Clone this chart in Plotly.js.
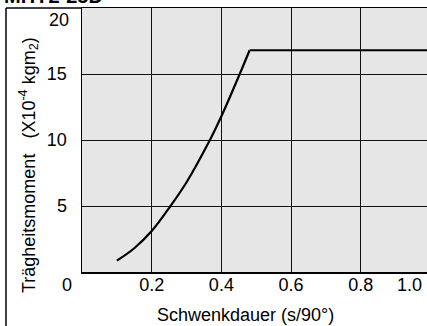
<!DOCTYPE html>
<html>
<head>
<meta charset="utf-8">
<script src="https://cdn.plot.ly/plotly-3.0.1.min.js"></script>
<style>html,body{margin:0;padding:0;background:#fff;}#chart{width:427px;height:326px;}</style>
</head>
<body>
<div id="chart"></div>
<script>
// Data
var riseTime    = [0.10, 0.15, 0.20, 0.254, 0.30, 0.367, 0.40, 0.451, 0.481];
var riseInertia = [0.86, 1.8, 3.1, 5.0, 6.8, 10.0, 11.8, 14.9, 16.8];
var flatTime    = [0.481, 1.05];
var flatInertia = [16.8, 16.8];
var xTickVals = [0.2, 0.4, 0.6, 0.8];
var xTickText = ['0.2', '0.4', '0.6', '0.8'];
var yTickVals = [5, 10, 15];
var yTickText = ['5', '10', '15'];
var chartTitle = 'MHY2-25D';
var xTitle = 'Schwenkdauer (s/90°)';
var yTitle = 'Trägheitsmoment\u00a0\u00a0\u00a0(X10<sup>-4</sup> kgm<sub>2</sub>)';

var font = {family: 'Liberation Sans, Arial, sans-serif', size: 18, color: '#000'};

var traces = [
  {x: riseTime, y: riseInertia, mode: 'lines', type: 'scatter',
   line: {color: '#000', width: 2.2, shape: 'spline', smoothing: 1}, hoverinfo: 'none'},
  {x: flatTime, y: flatInertia, mode: 'lines', type: 'scatter',
   line: {color: '#000', width: 2.2}, hoverinfo: 'none'}
];

var layout = {
  width: 427, height: 326,
  margin: {l: 82, r: 0, t: 8, b: 54, pad: 0},
  paper_bgcolor: '#fff', plot_bgcolor: '#e6e6e6',
  showlegend: false, font: font,
  xaxis: {
    range: [0, 0.990], tickvals: xTickVals, ticktext: xTickText,
    showgrid: true, gridcolor: '#111', gridwidth: 1, zeroline: false,
    showline: true, linecolor: '#000', linewidth: 1.5, mirror: true,
    ticks: '', ticklabelstandoff: -4, tickfont: font, fixedrange: true
  },
  yaxis: {
    range: [0, 20], tickvals: yTickVals, ticktext: yTickText,
    showgrid: true, gridcolor: '#111', gridwidth: 1, zeroline: false,
    showline: true, linecolor: '#000', linewidth: 1.5,
    ticks: '', ticklabelstandoff: 10, tickfont: font, fixedrange: true
  },
  shapes: [
    {type: 'line', xref: 'paper', yref: 'paper', x0: -76/345, x1: 0, y0: 1, y1: 1, line: {color: '#000', width: 1.5}},
    {type: 'line', xref: 'paper', yref: 'paper', x0: -76/345, x1: -76/345, y0: 1, y1: -54/264, line: {color: '#000', width: 1.5}}
  ],
  annotations: [
    {text: '<b>' + chartTitle + '</b>', xref: 'paper', yref: 'paper', x: -80/345, y: 1, xanchor: 'left', yanchor: 'bottom', yshift: -1, showarrow: false, font: {family: font.family, size: 20, color: '#000'}},
    {text: '20', xref: 'paper', yref: 'paper', x: 0, y: 1, xanchor: 'right', yanchor: 'middle', xshift: -11, yshift: -12, showarrow: false, font: font},
    {text: '0', xref: 'paper', yref: 'paper', x: 0, y: 0, xanchor: 'center', yanchor: 'middle', xshift: -15, yshift: -13, showarrow: false, font: font},
    {text: '1.0', xref: 'paper', yref: 'paper', x: 1, y: 0, xanchor: 'right', yanchor: 'middle', xshift: -3, yshift: -13, showarrow: false, font: font},
    {text: xTitle, xref: 'paper', yref: 'paper', x: (245-82)/345, y: 0, xanchor: 'center', yanchor: 'middle', yshift: -43, showarrow: false, font: font},
    {text: yTitle, xref: 'paper', yref: 'paper', x: -54/345, y: (272-165)/264, xanchor: 'center', yanchor: 'middle', textangle: -90, showarrow: false, font: font}
  ]
};

Plotly.newPlot('chart', traces, layout, {staticPlot: true, displayModeBar: false});
</script>
</body>
</html>
